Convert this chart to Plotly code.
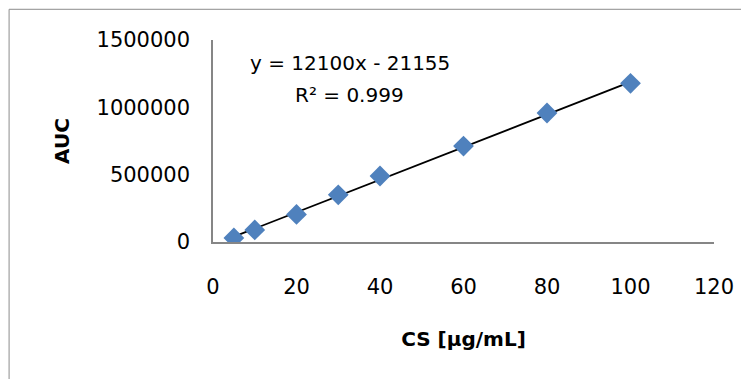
import plotly.graph_objects as go

cs = [5, 10, 20, 30, 40, 60, 80, 100]
auc = [30000, 90000, 205000, 350000, 490000, 712000, 958000, 1178000]
slope = 12100
intercept = -21155
eq_text = "y = 12100x - 21155"
r2_text = "R² = 0.999"
x_ticks = [0, 20, 40, 60, 80, 100, 120]
y_ticks = [0, 500000, 1000000, 1500000]

fit_x = [min(cs), max(cs)]
fit_y = [slope * v + intercept for v in fit_x]

font = "DejaVu Sans, Open Sans, sans-serif"

fig = go.Figure()
fig.add_trace(go.Scatter(x=fit_x, y=fit_y, mode="lines",
                         line=dict(color="black", width=1.8), showlegend=False,
                         hoverinfo="skip"))
fig.add_trace(go.Scatter(x=cs, y=auc, mode="markers",
                         marker=dict(symbol="diamond", size=16, color="#4F81BD"),
                         showlegend=False))

fig.add_annotation(x=0.273, y=0.886, xref="paper", yref="paper", text=eq_text,
                   xanchor="center", yanchor="middle",
                   showarrow=False, font=dict(size=20, color="black", family=font))
fig.add_annotation(x=0.273, y=0.728, xref="paper", yref="paper", text=r2_text,
                   xanchor="center", yanchor="middle",
                   showarrow=False, font=dict(size=20, color="black", family=font))

fig.add_shape(type="rect", xref="paper", yref="paper",
              x0=-0.407, y0=-1.0, x1=1.3, y1=1.152,
              line=dict(color="#8c8c8c", width=1), fillcolor="rgba(0,0,0,0)", layer="below")

fig.update_layout(
    width=741, height=371,
    margin=dict(l=205, r=35, t=32, b=137),
    paper_bgcolor="white", plot_bgcolor="white",
    font=dict(family=font, size=21, color="black"),
    xaxis=dict(range=[0, 120], tickvals=x_ticks, showgrid=False, zeroline=False,
               showline=True, linecolor="#868686", linewidth=1.5,
               ticks="outside", ticklen=25, tickcolor="rgba(0,0,0,0)",
               title=dict(text="<b>CS [µg/mL]</b>", standoff=34, font=dict(size=20))),
    yaxis=dict(range=[0, 1500000], tickvals=y_ticks, showgrid=False, zeroline=False,
               showline=True, linecolor="#868686", linewidth=1.5,
               ticks="outside", ticklen=17, tickcolor="rgba(0,0,0,0)",
               tickformat="d",
               title=dict(text="<b>AUC</b>", standoff=22, font=dict(size=20))),
)

fig.write_html("out.html")
